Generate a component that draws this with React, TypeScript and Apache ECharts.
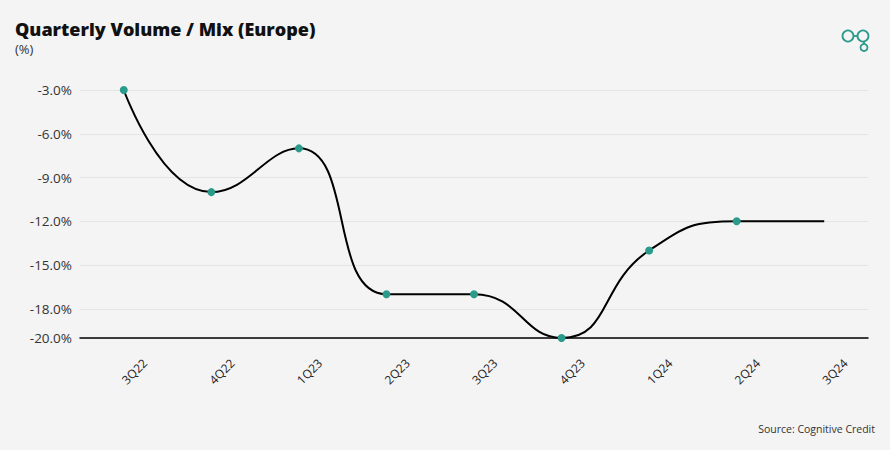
import React, { useEffect, useRef } from "react";
import * as echarts from "echarts";

const categories = ["3Q22", "4Q22", "1Q23", "2Q23", "3Q23", "4Q23", "1Q24", "2Q24", "3Q24"];
const values = [-3, -10, -7, -17, -17, -20, -14, -12, -12];
const showMarker = [true, true, true, true, true, true, true, true, false];
const yTicks = [-20, -18, -15, -12, -9, -6, -3];

const TEAL = "#2a9a8b";

export default function App() {
  const ref = useRef<HTMLDivElement>(null);
  useEffect(() => {
    document.body.style.margin = "0";
    document.body.style.background = "#f4f4f4";
    const chart = echarts.init(ref.current!, null, { renderer: "svg" });
    chart.setOption({
      animation: false,
      backgroundColor: "#f4f4f4",
      textStyle: { fontFamily: "Open Sans" },
      grid: { left: 80, right: 22, top: 90, bottom: 112 },
      xAxis: {
        type: "category",
        data: categories,
        boundaryGap: true,
        axisLine: { show: true, lineStyle: { color: "#000", width: 1.5 } },
        axisTick: { show: false },
        axisLabel: {
          rotate: 45,
          align: "left",
          verticalAlign: "middle",
          margin: 44,
          fontSize: 12,
          color: "#222",
          fontFamily: "Open Sans",
        },
      },
      yAxis: {
        type: "value",
        min: -20,
        max: -3,
        axisLine: { show: false },
        axisTick: { show: false, customValues: yTicks },
        splitLine: { show: true, lineStyle: { color: "#e4e4e4", width: 1 } },
        axisLabel: {
          customValues: yTicks,
          formatter: (v: number) => v.toFixed(1) + "%",
          fontSize: 13.5,
          color: "#333",
          margin: 8,
          fontFamily: "Open Sans",
        },
      },
      series: [
        {
          type: "line",
          data: values.map((v, i) => ({
            value: v,
            symbol: showMarker[i] ? "circle" : "none",
          })),
          smooth: 0.5,
          symbolSize: 8,
          lineStyle: { color: "#000", width: 2 },
          itemStyle: { color: TEAL },
          z: 3,
        },
      ],
      graphic: [
        {
          type: "text",
          left: 15,
          top: 20,
          style: {
            text: "Quarterly Volume / Mix (Europe)",
            fontSize: 18,
            fontWeight: 800,
            fill: "#111",
            fontFamily: "Open Sans",
          },
        },
        {
          type: "text",
          left: 15,
          top: 42,
          style: { text: "(%)", fontSize: 13, fill: "#333", fontFamily: "Open Sans" },
        },
        { type: "circle", shape: { cx: 848, cy: 36, r: 5.5 }, style: { fill: "none", stroke: TEAL, lineWidth: 1.8 } },
        { type: "circle", shape: { cx: 863, cy: 36, r: 5.5 }, style: { fill: "none", stroke: TEAL, lineWidth: 1.8 } },
        { type: "line", shape: { x1: 853.5, y1: 36, x2: 857.5, y2: 36 }, style: { stroke: TEAL, lineWidth: 1.8 } },
        { type: "line", shape: { x1: 864, y1: 41.5, x2: 864, y2: 44 }, style: { stroke: TEAL, lineWidth: 1.8 } },
        { type: "circle", shape: { cx: 864, cy: 47.5, r: 3.5 }, style: { fill: "none", stroke: TEAL, lineWidth: 1.8 } },
        {
          type: "text",
          right: 15,
          top: 423,
          style: { text: "Source: Cognitive Credit", fontSize: 10.5, fill: "#333", fontFamily: "Open Sans" },
        },
      ],
    });
    return () => chart.dispose();
  }, []);
  return <div ref={ref} style={{ width: 890, height: 450 }} />;
}
